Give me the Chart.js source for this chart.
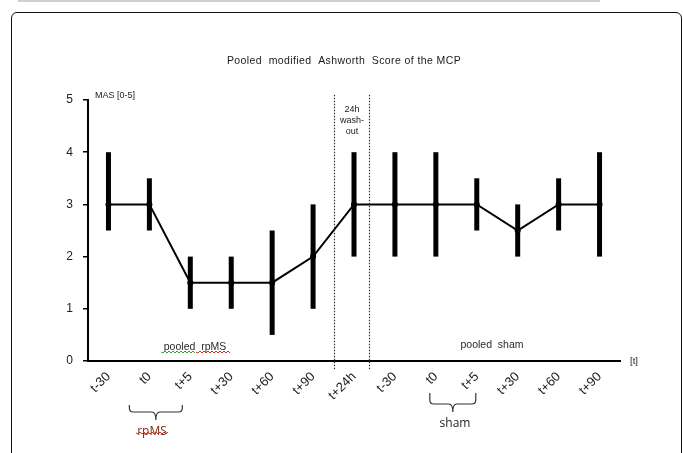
<!DOCTYPE html>
<html>
<head>
<meta charset="utf-8">
<script src="https://cdn.jsdelivr.net/npm/chart.js@4.4.0/dist/chart.umd.min.js"></script>
<style>
  html, body { margin: 0; padding: 0; background: #fff; }
  #wrap { position: relative; width: 683px; height: 453px; overflow: hidden; }
  #topline { position: absolute; left: 18px; top: 0; width: 582px; height: 2px; background: #cfcfcf; }
  #frame { position: absolute; left: 11px; top: 12px; width: 669px; height: 470px; border: 1.5px solid #111; border-radius: 6px; }
  canvas { position: absolute; left: 0; top: 0; }
</style>
</head>
<body>
<div id="wrap">
  <div id="topline"></div>
  <div id="frame"></div>
  <canvas id="c" width="683" height="453"></canvas>
</div>
<script>
// time points: pooled rpMS (0-5), washout (6), pooled sham (7-12)
const labels  = ['t-30', 't0', 't+5', 't+30', 't+60', 't+90', 't+24h', 't-30', 't0', 't+5', 't+30', 't+60', 't+90'];
const medians = [3, 3, 1.5, 1.5, 1.5, 2, 3, 3, 3, 3, 2.5, 3, 3];
const lows    = [2.5, 2.5, 1, 1, 0.5, 1, 2, 2, 2, 2.5, 2, 2.5, 2];
const highs   = [4, 3.5, 2, 2, 2.5, 3, 4, 4, 4, 3.5, 3, 3.5, 4];
const yTicks  = [0, 1, 2, 3, 4, 5];
const washout = [5.5, 6.37];        // dotted lines, in category units
const rpmsBrace = [1, 2];           // brace under t0 .. t+5 (rpMS)
const shamBrace = [8, 9];           // brace under t0 .. t+5 (sham)

const INK = '#000';
const FONT = '"Liberation Sans", Arial, sans-serif';

function wave(ctx, x1, x2, y, color) {
  ctx.save();
  ctx.strokeStyle = color; ctx.lineWidth = 1;
  ctx.beginPath(); ctx.moveTo(x1, y);
  for (let x = x1, k = 0; x < x2; x += 2, k++) ctx.lineTo(x + 2, y + (k % 2 ? -1 : 1));
  ctx.stroke(); ctx.restore();
}

function brace(ctx, x1, x2, yTop, yMid, yTip) {
  const xm = (x1 + x2) / 2, r = 4;
  ctx.beginPath();
  ctx.moveTo(x1, yTop);
  ctx.lineTo(x1, yMid - r);
  ctx.quadraticCurveTo(x1, yMid, x1 + r, yMid);
  ctx.lineTo(xm - r, yMid);
  ctx.quadraticCurveTo(xm, yMid, xm, yTip);
  ctx.quadraticCurveTo(xm, yMid, xm + r, yMid);
  ctx.lineTo(x2 - r, yMid);
  ctx.quadraticCurveTo(x2, yMid, x2, yMid - r);
  ctx.lineTo(x2, yTop);
  ctx.stroke();
}

const errorBars = {
  id: 'errorBars',
  beforeDatasetsDraw(chart) {
    const { ctx, scales: { x, y } } = chart;
    ctx.save(); ctx.strokeStyle = INK; ctx.lineWidth = 5; ctx.lineCap = 'butt';
    labels.forEach((_, i) => {
      const px = x.getPixelForValue(i);
      ctx.beginPath(); ctx.moveTo(px, y.getPixelForValue(lows[i])); ctx.lineTo(px, y.getPixelForValue(highs[i])); ctx.stroke();
    });
    ctx.restore();
  },
};

const overlay = {
  id: 'overlay',
  afterDraw(chart) {
    const { ctx, chartArea, scales: { x, y } } = chart;
    ctx.save();
    // washout dotted lines
    ctx.strokeStyle = '#333'; ctx.lineWidth = 1.2; ctx.setLineDash([1.5, 1.5]);
    washout.forEach(v => {
      const px = Math.round(x.getPixelForValue(v)) + 0.5;
      ctx.beginPath(); ctx.moveTo(px, y.getPixelForValue(5.1)); ctx.lineTo(px, chartArea.bottom + 9); ctx.stroke();
    });
    ctx.setLineDash([]);

    ctx.fillStyle = '#1a1a1a'; ctx.textAlign = 'center'; ctx.textBaseline = 'middle';
    ctx.font = '10.5px ' + FONT;
    ctx.letterSpacing = '0.4px';
    ctx.fillText('Pooled  modified  Ashworth  Score of the MCP', 344, 61);
    ctx.letterSpacing = '0px';

    ctx.font = '9px ' + FONT;
    ctx.textAlign = 'left';
    ctx.fillText('MAS [0-5]', 95, 96);
    ctx.font = '9.5px ' + FONT;
    ctx.fillText('[t]', 630, 361);
    ctx.font = '9px ' + FONT;
    ctx.textAlign = 'center';
    const wx = x.getPixelForValue(6) - 2;
    ctx.fillText('24h', wx, 110);
    ctx.fillText('wash-', wx, 121);
    ctx.fillText('out', wx, 132);

    ctx.font = '10.5px ' + FONT;
    ctx.fillStyle = '#2a2a2a';
    ctx.fillText('pooled  rpMS', 195, 347);
    wave(ctx, 161, 194, 352, '#3a9a3a');
    wave(ctx, 196, 229, 352, '#d03020');
    ctx.fillText('pooled  sham', 492, 345);

    // braces
    ctx.strokeStyle = '#333'; ctx.lineWidth = 1.2;
    brace(ctx, x.getPixelForValue(rpmsBrace[0]) - 20, x.getPixelForValue(rpmsBrace[1]) - 8, 405, 412, 420);
    brace(ctx, x.getPixelForValue(shamBrace[0]) - 6, x.getPixelForValue(shamBrace[1]) - 1, 393, 404, 412);

    ctx.font = '12px "Open Sans", sans-serif';
    ctx.fillStyle = '#7a2a1a';
    ctx.fillText('rpMS', 152, 432);
    wave(ctx, 136, 168, 433, '#d03020');
    ctx.fillStyle = '#222';
    ctx.fillText('sham', 455, 424);
    ctx.restore();
  },
};

new Chart(document.getElementById('c'), {
  type: 'line',
  data: {
    labels,
    datasets: [{
      data: medians,
      borderColor: INK, borderWidth: 2, tension: 0,
      pointRadius: 3, pointBackgroundColor: INK, pointBorderColor: INK, pointBorderWidth: 0,
    }],
  },
  options: {
    responsive: false, animation: false,
    devicePixelRatio: 1,
    layout: { padding: { top: 100, right: 63, bottom: 0, left: 0 } },
    plugins: { legend: { display: false }, tooltip: { enabled: false } },
    scales: {
      x: {
        type: 'category', offset: true,
        grid: { display: false },
        border: { color: INK, width: 2 },
        ticks: { color: '#222', font: { family: FONT, size: 13 }, minRotation: 45, maxRotation: 45, autoSkip: false, padding: 0 },
        afterFit: s => { s.height = 92; },
      },
      y: {
        min: 0, max: 5,
        afterBuildTicks: s => { s.ticks = yTicks.map(v => ({ value: v })); },
        grid: { drawOnChartArea: false, drawTicks: true, tickLength: 5, color: INK, lineWidth: 1.5 },
        border: { color: INK, width: 2 },
        ticks: { color: '#222', font: { family: FONT, size: 12 }, padding: 10 },
        afterFit: s => { s.width = 88; },
      },
    },
  },
  plugins: [errorBars, overlay],
});
</script>
</body>
</html>
